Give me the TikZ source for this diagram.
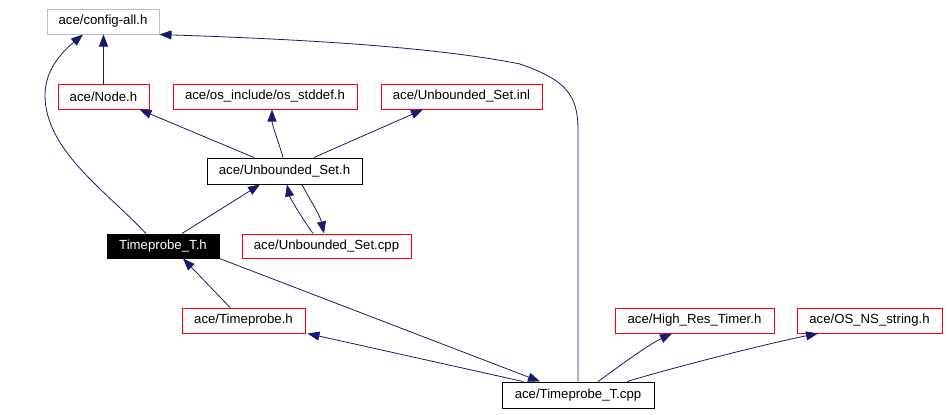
\documentclass[tikz,border=0pt]{standalone}
\usepackage{fontspec}
\setmainfont{Liberation Sans}
\usetikzlibrary{arrows.meta}
\definecolor{edgeblue}{HTML}{191970}
\definecolor{graybox}{HTML}{BFBFBF}
\begin{document}
\begin{tikzpicture}[x=1pt,y=-1pt,
  box/.style={draw, line width=1pt, inner sep=0pt, minimum height=25pt, font=\fontsize{13.2}{15}\selectfont},
  redbox/.style={box, draw=red},
  blackbox/.style={box, draw=black},
  graybx/.style={box, draw=graybox},
  selbox/.style={box, draw=black, fill=black, text=white},
  dep/.style={draw=edgeblue, line width=0.8pt, -{Triangle[length=12pt,width=9pt,fill=edgeblue]}}
]
\useasboundingbox (0,0) rectangle (948,415);
\node[graybx, minimum width=112pt] (cfg) at (103,21.5) {ace/config-all.h};
\node[redbox, minimum width=91pt] (nodeh) at (103.5,96.5) {ace/Node.h};
\node[redbox, minimum width=184pt] (stddef) at (265,96.5) {ace/os\_include/os\_stddef.h};
\node[redbox, minimum width=161pt] (inl) at (461.5,96.5) {ace/Unbounded\_Set.inl};
\node[blackbox, minimum width=155pt, minimum height=26pt] (ush) at (284.5,171) {ace/Unbounded\_Set.h};
\node[selbox, minimum width=112pt, minimum height=24pt] (tph) at (163,246) {Timeprobe\_T.h};
\node[redbox, minimum width=169pt, minimum height=24pt] (uscpp) at (326.5,246) {ace/Unbounded\_Set.cpp};
\node[redbox, minimum width=123pt] (tp) at (243.5,320.5) {ace/Timeprobe.h};
\node[redbox, minimum width=159pt] (hrt) at (694.5,320.5) {ace/High\_Res\_Timer.h};
\node[redbox, minimum width=145pt] (osns) at (869.5,320.5) {ace/OS\_NS\_string.h};
\node[blackbox, minimum width=152pt, minimum height=26pt] (tpcpp) at (578,395) {ace/Timeprobe\_T.cpp};

\draw[dep] (nodeh.north) -- (nodeh.north |- cfg.south);
\draw[dep] ([xshift=-17pt]tph.north) .. controls (105,190) and (45,150) .. (45,95)
  .. controls (45,70) and (62,52) .. ([xshift=-20pt]cfg.south);
\draw[dep] (tpcpp.north) -- (578,130) .. controls (578,95) and (566,80) .. (520,64)
  .. controls (420,44) and (260,38) .. (cfg.south east);
\draw[dep] ([xshift=-30.5pt]ush.north) -- ([xshift=36pt]nodeh.south);
\draw[dep] ([xshift=-1.5pt]ush.north) .. controls (278,140) and (272,125) .. ([xshift=7pt]stddef.south);
\draw[dep] ([xshift=29.5pt]ush.north) -- ([xshift=-38.5pt]inl.south);
\draw[dep] ([xshift=19pt]tph.north) -- ([xshift=-24.5pt]ush.south);
\draw[dep] ([xshift=-13.5pt]uscpp.north) .. controls (300,215) and (290,198) .. ([xshift=2.5pt]ush.south);
\draw[dep] ([xshift=17.5pt]ush.south) .. controls (310,200) and (320,215) .. ([xshift=-2.5pt]uscpp.north);
\draw[dep] ([xshift=-13.5pt]tp.north) -- ([xshift=20pt]tph.south);
\draw[dep] (tph.south east) -- ([xshift=-38pt]tpcpp.north);
\draw[dep] ([xshift=-55pt]tpcpp.north) -- ([xshift=2pt]tp.south east);
\draw[dep] ([xshift=20pt]tpcpp.north) .. controls (625,362) and (648,345) .. ([xshift=-22.5pt]hrt.south);
\draw[dep] ([xshift=49pt]tpcpp.north) .. controls (665,370) and (760,345) .. ([xshift=-51.5pt]osns.south);
\end{tikzpicture}
\end{document}
